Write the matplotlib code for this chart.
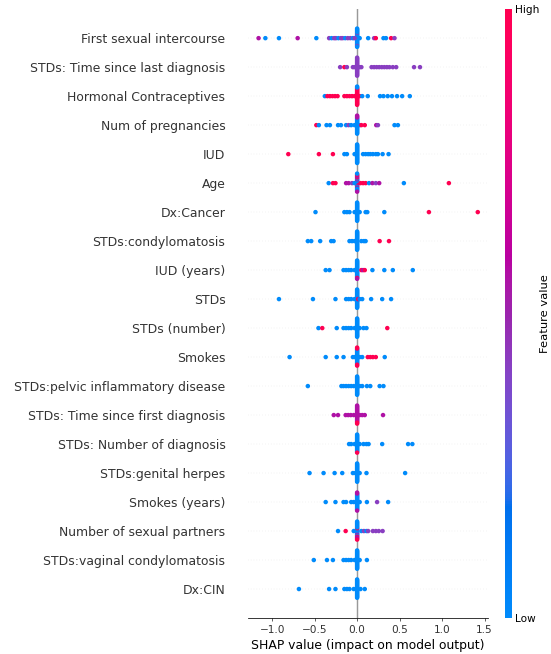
import numpy as np
import matplotlib
matplotlib.use("Agg")
import matplotlib.pyplot as plt
from matplotlib.colors import LinearSegmentedColormap
import matplotlib.cm as cm

# ---------------- data (top row first) ----------------
features = [
    "First sexual intercourse",
    "STDs: Time since last diagnosis",
    "Hormonal Contraceptives",
    "Num of pregnancies",
    "IUD",
    "Age",
    "Dx:Cancer",
    "STDs:condylomatosis",
    "IUD (years)",
    "STDs",
    "STDs (number)",
    "Smokes",
    "STDs:pelvic inflammatory disease",
    "STDs: Time since first diagnosis",
    "STDs: Number of diagnosis",
    "STDs:genital herpes",
    "Smokes (years)",
    "Number of sexual partners",
    "STDs:vaginal condylomatosis",
    "Dx:CIN",
]

# feature-value codes: b = low, v = violet, m = magenta, r = high
code_level = {"b": 0.0, "v": 0.42, "m": 0.56, "r": 1.0}

vals_first_sex = [-1.16, -1.08, -0.92, -0.70, -0.48, -0.33, -0.30, -0.27, -0.25, -0.22,
                  -0.19, -0.17, -0.14, -0.11, -0.08, -0.05, -0.03, 0.03, 0.13, 0.20,
                  0.22, 0.31, 0.34, 0.40, 0.44]
codes_first_sex = "mbbmbvbvvbvvbvvbv" + "bbvrbbrv"
zero_first_sex = "bbbbvbbbbbbvbbbbbbvbbb"

vals_last_diag = [-0.20, -0.15, -0.12, -0.05, -0.03, 0.03, 0.05, 0.17, 0.20, 0.23,
                  0.26, 0.29, 0.32, 0.35, 0.38, 0.42, 0.46, 0.67, 0.74]
codes_last_diag = "vrvvvvvvvvvvvvvvvvv"
zero_last_diag = "vvvvvvvvvvvvvvvvvvvv"

vals_hormonal = [-0.38, -0.35, -0.32, -0.29, -0.26, -0.23, -0.15, -0.12, -0.09, -0.06,
                 -0.03, 0.03, 0.06, 0.125, 0.27, 0.31, 0.36, 0.41, 0.47, 0.53, 0.62]
codes_hormonal = "brrrrrrrrrrrbbbbbbbbb"
zero_hormonal = "rrrrrrrrrrrrrrrrrrrbrb"

vals_pregn = [-0.48, -0.45, -0.36, -0.32, -0.225, -0.19, -0.13, -0.10, -0.07, -0.03,
              0.03, 0.05, 0.09, 0.225, 0.245, 0.44, 0.48]
codes_pregn = "rbbbbbbvbbbrrmvbb"
zero_pregn = "bbbbbbbbbbbbbbbmbmbm"

vals_iud = [-0.81, -0.45, -0.285, -0.15, -0.12, -0.03, 0.07, 0.10, 0.13, 0.155,
            0.185, 0.22, 0.245, 0.30, 0.37]
codes_iud = "rrrbbbbbbbbbbbb"
zero_iud = "bbbbbbbbbbbbbbbbbbbbbbbb"

vals_age = [-0.335, -0.285, -0.255, -0.13, -0.10, -0.06, -0.03, 0.04, 0.07, 0.10,
            0.14, 0.18, 0.22, 0.26, 0.55, 1.08]
codes_age = "brrmmvbrrrbmvmbr"
zero_age = "bmrbmbrmbbmrbmbmbrmb"

vals_cancer = [-0.49, -0.15, -0.12, -0.09, -0.03, 0.03, 0.10, 0.12, 0.32, 0.845, 1.42]
codes_cancer = "bbbbbbbbbrr"
zero_cancer = "bbbbbbbbbbbbbbbbbbbbbb"

vals_condy = [-0.58, -0.54, -0.435, -0.305, -0.277, -0.09, -0.06, -0.03, 0.05, 0.08,
              0.10, 0.265, 0.375]
codes_condy = "bbbbbbbbbbbrr"
zero_condy = "bbbbbbbbbbbbbbbbbbbbbb"

vals_iud_years = [-0.37, -0.325, -0.16, -0.13, -0.10, -0.07, -0.03, 0.05, 0.07, 0.09,
                  0.18, 0.32, 0.42, 0.655]
codes_iud_years = "bbbbbbbrmrbbbb"
zero_iud_years = "bbbbbbbbbbbbbbbbbbrbmb"

vals_stds = [-0.92, -0.52, -0.255, -0.13, -0.10, -0.07, -0.03, 0.012, 0.03, 0.06,
             0.165, 0.295, 0.40]
codes_stds = "bbbbbbbrbbbbb"
zero_stds = "bbbbbbbbbbbbbbbbbbbbbb"

vals_stds_num = [-0.455, -0.41, -0.24, -0.16, -0.13, -0.10, -0.07, -0.03, 0.03, 0.075,
                 0.11, 0.355]
codes_stds_num = "brbbbbbbbbbr"
zero_stds_num = "bbbbbbbbbbbbbbbbbbbbbb"

vals_smokes = [-0.795, -0.37, -0.24, -0.16, -0.05, -0.025, 0.03, 0.06, 0.125, 0.155,
               0.185, 0.22, 0.325]
codes_smokes = "bbbbbbbbrrrrb"
zero_smokes = "bbbbbbbbbbbbbbbbrrrr"

vals_pelvic = [-0.58, -0.185, -0.16, -0.13, -0.10, -0.07, -0.04, 0.03, 0.06, 0.115,
               0.155, 0.265, 0.31]
codes_pelvic = "bbbbbbbbbbbbb"
zero_pelvic = "bbbbbbbbbbbbbbbbbbbbbb"

vals_first_diag = [-0.275, -0.225, -0.135, -0.105, -0.075, -0.04, 0.03, 0.06, 0.09, 0.305]
codes_first_diag = "mmmmmmmmmm"
zero_first_diag = "mmmmmmmmmmmmmmmmrmrm"

vals_num_diag = [-0.095, -0.07, -0.03, 0.03, 0.075, 0.11, 0.135, 0.295, 0.60, 0.65]
codes_num_diag = "bbbbbbbbbb"
zero_num_diag = "bbbbbbbbbbbbbbbbbbrb"

vals_herpes = [-0.56, -0.395, -0.265, -0.175, -0.05, -0.02, 0.03, 0.11, 0.565]
codes_herpes = "bbbbbbbbb"
zero_herpes = "bbbbbbbbbbbbbbbbbbbbbb"

vals_smokes_years = [-0.37, -0.255, -0.16, -0.13, -0.07, -0.04, 0.03, 0.115, 0.235, 0.365]
codes_smokes_years = "bbbbbbbbvb"
zero_smokes_years = "bbbbbbbbbbbbbbbbbmmm"

vals_partners = [-0.225, -0.135, -0.04, 0.05, 0.08, 0.11, 0.13, 0.185, 0.22, 0.255, 0.30]
codes_partners = "brbbvbvvvvv"
zero_partners = "bbmbbrbbmbbbrbmbmbrb"

vals_vaginal = [-0.51, -0.355, -0.285, -0.16, -0.13, -0.10, -0.07, -0.03, 0.03, 0.115]
codes_vaginal = "bbbbbbbbbb"
zero_vaginal = "bbbbbbbbbbbbbbbbbbbbbb"

vals_cin = [-0.685, -0.33, -0.255, -0.15, -0.12, -0.09, -0.04, 0.04, 0.09]
codes_cin = "bbbbbbbbb"
zero_cin = "bbbbbbbbbbbbbbbbbbbbbb"

rows = [
    (vals_first_sex, codes_first_sex, zero_first_sex),
    (vals_last_diag, codes_last_diag, zero_last_diag),
    (vals_hormonal, codes_hormonal, zero_hormonal),
    (vals_pregn, codes_pregn, zero_pregn),
    (vals_iud, codes_iud, zero_iud),
    (vals_age, codes_age, zero_age),
    (vals_cancer, codes_cancer, zero_cancer),
    (vals_condy, codes_condy, zero_condy),
    (vals_iud_years, codes_iud_years, zero_iud_years),
    (vals_stds, codes_stds, zero_stds),
    (vals_stds_num, codes_stds_num, zero_stds_num),
    (vals_smokes, codes_smokes, zero_smokes),
    (vals_pelvic, codes_pelvic, zero_pelvic),
    (vals_first_diag, codes_first_diag, zero_first_diag),
    (vals_num_diag, codes_num_diag, zero_num_diag),
    (vals_herpes, codes_herpes, zero_herpes),
    (vals_smokes_years, codes_smokes_years, zero_smokes_years),
    (vals_partners, codes_partners, zero_partners),
    (vals_vaginal, codes_vaginal, zero_vaginal),
    (vals_cin, codes_cin, zero_cin),
]

# ---------------- SHAP red-blue colormap (LCH interpolation) ----------------
def lch2rgb(lch):
    L, C, H = lch
    a, b = C * np.cos(H), C * np.sin(H)
    fy = (L + 16) / 116.0
    fx = fy + a / 500.0
    fz = fy - b / 200.0
    def finv(t):
        return t ** 3 if t > 6 / 29 else 3 * (6 / 29) ** 2 * (t - 4 / 29)
    X, Y, Z = 0.95047 * finv(fx), 1.0 * finv(fy), 1.08883 * finv(fz)
    rgb = np.array([3.2406 * X - 1.5372 * Y - 0.4986 * Z,
                    -0.9689 * X + 1.8758 * Y + 0.0415 * Z,
                    0.0557 * X - 0.2040 * Y + 1.0570 * Z])
    rgb = np.where(rgb > 0.0031308, 1.055 * np.abs(rgb) ** (1 / 2.4) - 0.055, 12.92 * rgb)
    return np.clip(rgb, 0, 1)

blue_lch = [54., 70., 4.6588]
l_mid = 40.
red_lch = [54., 90., 0.35470565 + 2 * np.pi]
nsteps = 100
l_vals = list(np.linspace(blue_lch[0], l_mid, nsteps // 2)) + list(np.linspace(l_mid, red_lch[0], nsteps // 2))
c_vals = np.linspace(blue_lch[1], red_lch[1], nsteps)
h_vals = np.linspace(blue_lch[2], red_lch[2], nsteps)
cmap_colors = [lch2rgb([l, c, h]) for l, c, h in zip(l_vals, c_vals, h_vals)]
red_blue = LinearSegmentedColormap.from_list("red_blue", cmap_colors)

# ---------------- plotting ----------------
DPI = 68.875
fig = plt.figure(figsize=(551 / DPI, 654 / DPI), dpi=DPI)
ax = fig.add_axes([0.450, 0.055, 0.4356, 0.931])
axis_color = "#333333"
n = len(features)
row_height = 0.4

def swarm(values, nbins=100):
    values = np.asarray(values, float)
    quant = np.round(nbins * (values - values.min()) / (values.max() - values.min() + 1e-8))
    inds = np.argsort(quant, kind="stable")
    ys = np.zeros(len(values))
    layer, last = 0, -1
    for i in inds:
        if quant[i] != last:
            layer = 0
        ys[i] = np.ceil(layer / 2) * ((layer % 2) * 2 - 1)
        layer += 1
        last = quant[i]
    ys *= 0.9 * (row_height / np.max(ys + 1))
    return ys

ax.axvline(x=0, color="#999999", zorder=-1)
for i, (vals, codes, zcodes) in enumerate(rows):
    pos = n - 1 - i
    ax.axhline(y=pos, color="#cccccc", lw=0.5, dashes=(1, 5), zorder=-1)
    allv = np.concatenate([np.zeros(len(zcodes)), np.asarray(vals, float)])
    allc = zcodes + codes
    lev = np.array([code_level[c] for c in allc])
    ys = swarm(allv)
    ax.scatter(allv, pos + ys, c=lev, cmap=red_blue, vmin=0, vmax=1, s=22,
               alpha=1, linewidth=0, zorder=3, rasterized=True)

ax.set_xlim(-1.285, 1.54)
ax.set_ylim(-1, n)
ax.xaxis.set_ticks_position("bottom")
ax.yaxis.set_ticks_position("none")
for s in ["right", "top", "left"]:
    ax.spines[s].set_visible(False)
ax.tick_params(color=axis_color, labelcolor=axis_color)
ax.set_yticks(range(n))
ax.set_yticklabels(features[::-1], fontsize=13)
ax.tick_params("y", length=20, width=0.5, which="major")
ax.tick_params("x", labelsize=11)
ax.set_xlabel("SHAP value (impact on model output)", fontsize=13)

cax = fig.add_axes([0.9165, 0.055, 0.0127, 0.931])
m = cm.ScalarMappable(cmap=red_blue)
m.set_array([0, 1])
cb = fig.colorbar(m, cax=cax, ticks=[0, 1])
cb.set_ticklabels(["Low", "High"])
cb.set_label("Feature value", size=12, labelpad=0)
cb.ax.tick_params(labelsize=11, length=0)
cb.outline.set_visible(False)

fig.savefig("out.png", dpi=DPI)
